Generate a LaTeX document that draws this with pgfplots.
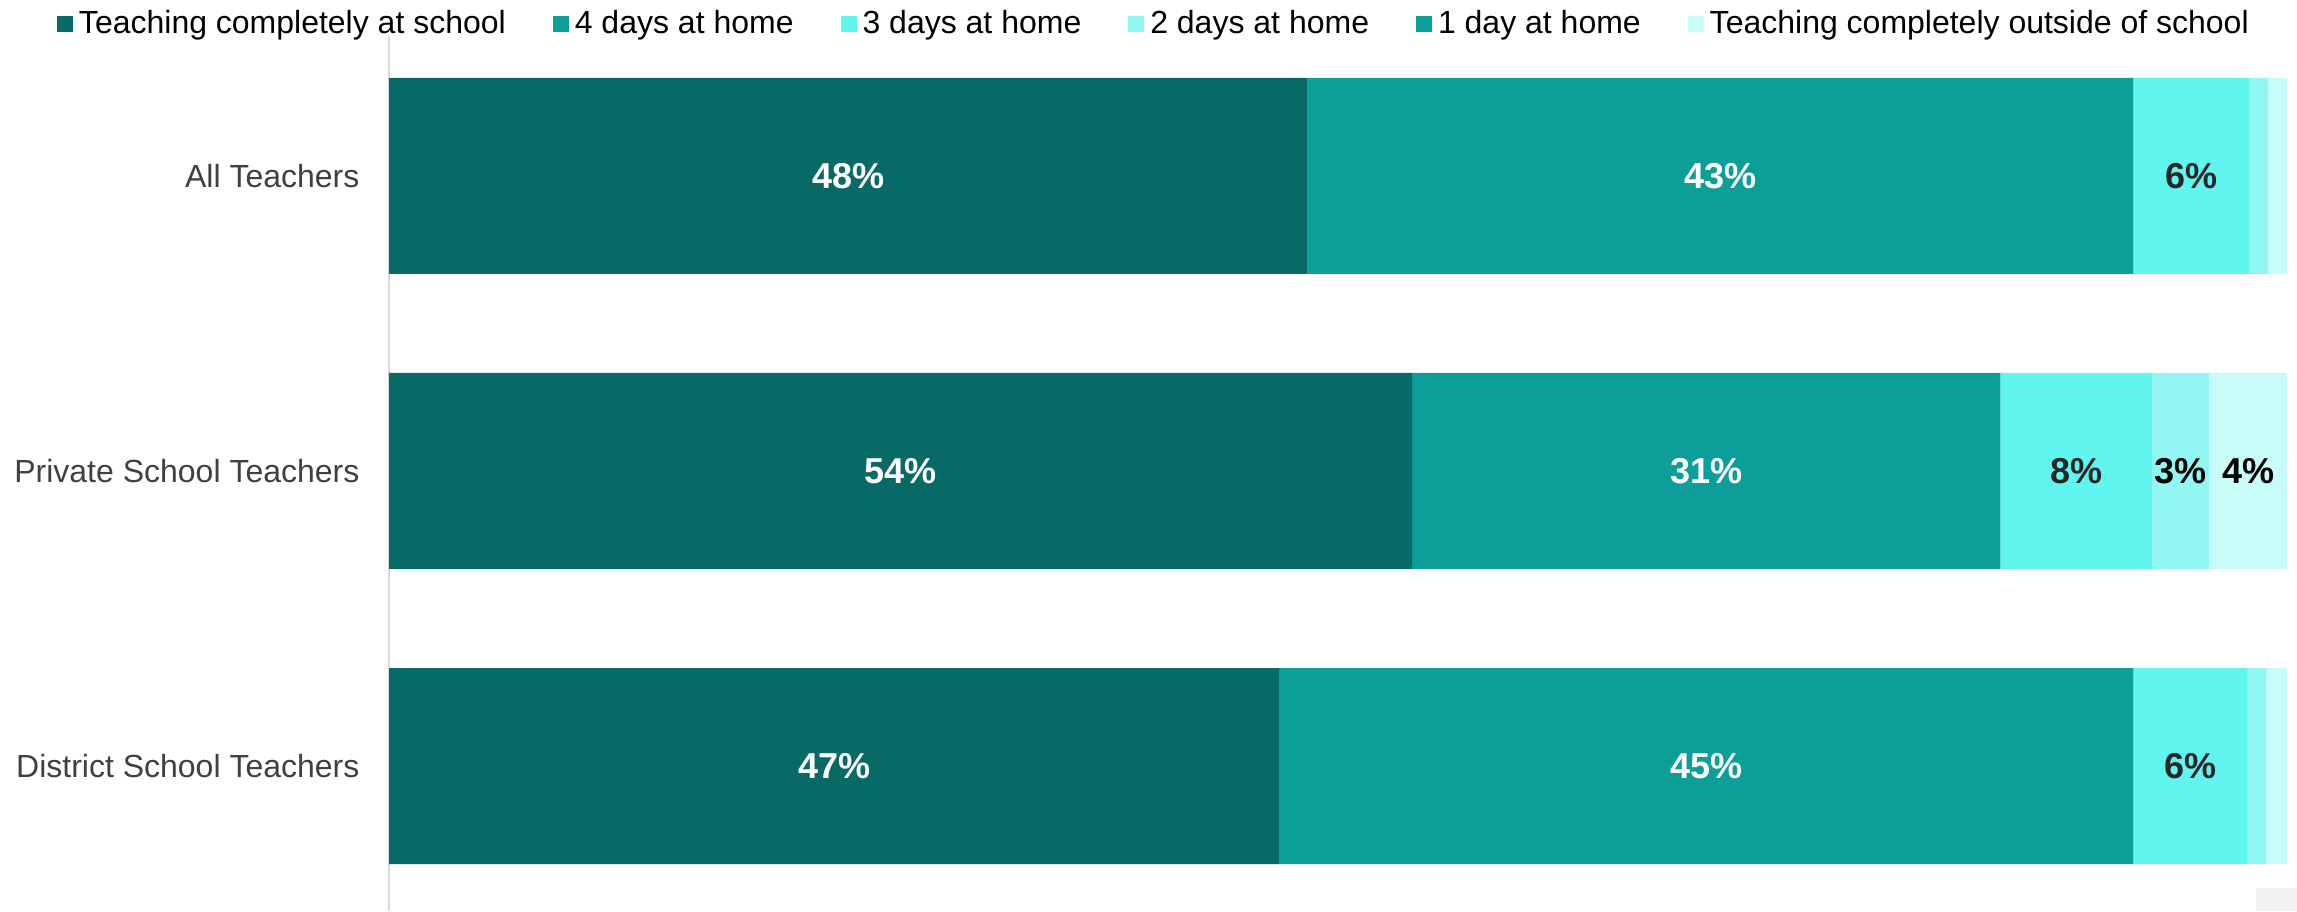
\documentclass[border=0pt]{standalone}
\usepackage{fontspec}
\setmainfont{Liberation Sans}
\usepackage{pgfplots}
\usepackage{pgfplotstable}
\pgfplotsset{compat=1.18}

\definecolor{c1}{HTML}{086A66}
\definecolor{c2}{HTML}{0C9F9A}
\definecolor{c3}{HTML}{60F5EF}
\definecolor{c4}{HTML}{92F6F2}
\definecolor{c5}{HTML}{0C9F9A}
\definecolor{c6}{HTML}{C8FCF9}
\definecolor{axisgray}{HTML}{D9D9D9}
\definecolor{labelgray}{HTML}{404040}
\definecolor{darklab}{HTML}{262626}

\pgfplotstableread{
y v1 v2 v3 v4 v5 v6
0 48.4 43.5 6.1 1.0 0 1.0
1 53.9 31.0 8.0 3.0 0 4.1
2 46.9 45.0 6.0 1.0 0 1.1
}\data

\begin{document}
\begin{tikzpicture}
\begin{axis}[
  at={(145.875pt,0pt)}, anchor=south west,
  scale only axis, width=711.75pt, height=327.75pt,
  xbar stacked, bar width=73.5pt,
  xmin=0, xmax=100, ymin=-0.471, ymax=2.4915,
  y dir=reverse,
  axis x line=none, axis y line*=left,
  y axis line style={draw=axisgray, line width=0.6pt},
  ytick={0,1,2},
  yticklabels={All Teachers, Private School Teachers, District School Teachers},
  major tick length=0pt,
  yticklabel style={anchor=east, inner sep=0pt, xshift=-10.9pt, text=labelgray, font=\fontsize{12}{14.4}\selectfont},
  legend columns=-1,
  legend image code/.code={\fill[#1] (0pt,-3pt) rectangle (6pt,3pt);},
  legend style={at={(axis description cs:0,1)}, anchor=west, xshift=-124.5pt, yshift=4.9pt,
    draw=none, fill=none, inner sep=0pt, outer sep=0pt,
    nodes={inner sep=0pt},
    font=\fontsize{12}{14.4}\selectfont,
    /tikz/every odd column/.append style={column sep=2.25pt},
    /tikz/every even column/.append style={column sep=17.6pt}},
]
\addplot[fill=c1, draw=none] table[x=v1, y=y] {\data};
\addplot[fill=c2, draw=none] table[x=v2, y=y] {\data};
\addplot[fill=c3, draw=none] table[x=v3, y=y] {\data};
\addplot[fill=c4, draw=none] table[x=v4, y=y] {\data};
\addplot[fill=c5, draw=none] table[x=v5, y=y] {\data};
\addplot[fill=c6, draw=none] table[x=v6, y=y] {\data};
\legend{Teaching completely at school, 4 days at home, 3 days at home, 2 days at home, 1 day at home, Teaching completely outside of school}
\end{axis}
\begin{axis}[
  at={(145.875pt,0pt)}, anchor=south west,
  scale only axis, width=711.75pt, height=327.75pt,
  xmin=0, xmax=100, ymin=-0.471, ymax=2.4915,
  y dir=reverse, hide axis,
  point meta=explicit symbolic,
  nodes near coords={\pgfplotspointmeta\%},
  every node near coord/.append style={anchor=center, inner sep=0pt, font=\bfseries\fontsize{13.5}{16}\selectfont},
]
\addplot[only marks, mark size=0pt, mark options={draw=none, fill=none},
  every node near coord/.append style={text=white}] coordinates {
  (24.2,0) [48] (70.15,0) [43]
  (26.95,1) [54] (69.4,1) [31]
  (23.45,2) [47] (69.4,2) [45]
};
\addplot[only marks, mark size=0pt, mark options={draw=none, fill=none},
  every node near coord/.append style={text=darklab}] coordinates {
  (94.95,0) [6] (88.9,1) [8] (94.9,2) [6]
};
\addplot[only marks, mark size=0pt, mark options={draw=none, fill=none},
  every node near coord/.append style={text=black}] coordinates {
  (94.4,1) [3] (97.95,1) [4]
};
\end{axis}
\fill[black!5] (846pt,0pt) rectangle (861.375pt,8.625pt);
\pgfresetboundingbox
\useasboundingbox (0pt,0pt) rectangle (861.375pt,341.625pt);
\end{tikzpicture}
\end{document}
